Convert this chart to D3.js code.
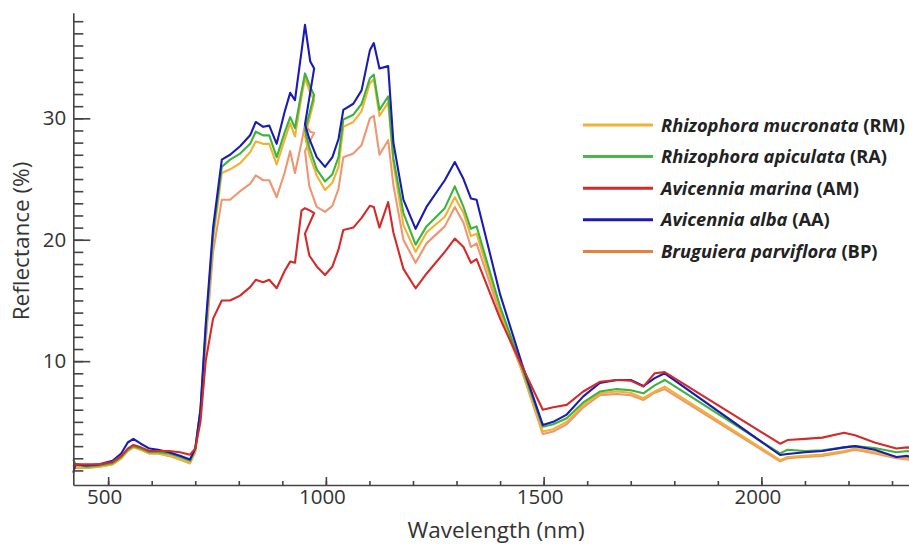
<!DOCTYPE html>
<html>
<head>
<meta charset="utf-8">
<script src="https://cdn.jsdelivr.net/npm/d3@7"></script>
<style>
  html, body { margin: 0; padding: 0; background: #fff; }
  svg { display: block; font-family: "Open Sans", "Noto Sans", sans-serif; }
</style>
</head>
<body>
<svg id="chart" width="909" height="544"></svg>
<script>
// ---- data (wavelength grid shared by all series; detector overlap near 950-975 nm) ----
const wavelengths = [420,425,450,480,510,530,545,558,575,595,615,640,665,688,700,712,724,741,761,780,803,826,839,856,870,887,905,918,929,944,952,964,973,
  952,962,979,998,1015,1029,1040,1063,1082,1101,1110,1123,1143,1155,1178,1206,1231,1273,1296,1316,1333,1346,1400,1450,1498,1522,1553,1591,1629,1668,1700,1729,1755,1778,
  2043,2060,2100,2140,2190,2215,2260,2310,2335,2350];

const seriesNames = ["Rhizophora mucronata", "Rhizophora apiculata", "Avicennia marina", "Avicennia alba", "Bruguiera parviflora"];
const seriesCodes = ["RM", "RA", "AM", "AA", "BP"];

const valuesRM = [1.2,1.3,1.2,1.3,1.5,2.0,2.6,2.95,2.7,2.4,2.4,2.2,1.9,1.6,2.6,5.8,12.0,20.0,25.5,25.8,26.3,27.2,28.1,27.9,27.9,26.2,28.2,29.6,28.5,31.8,33.3,32.1,31.5,
  28.5,27.0,25.3,24.1,24.7,26.0,29.3,29.7,30.6,32.9,33.2,30.2,31.3,26.3,21.2,19.0,20.6,21.9,23.5,22.2,20.3,20.5,14.2,9.3,4.2,4.4,5.0,6.4,7.35,7.5,7.4,6.95,7.5,7.9,
  1.85,2.1,2.2,2.3,2.6,2.8,2.5,2.1,2.0,1.9];
const valuesRA = [1.9,1.5,1.3,1.4,1.6,2.1,2.7,3.0,2.8,2.5,2.5,2.4,2.1,1.8,2.8,6.0,12.5,20.5,26.0,26.6,27.1,27.9,28.9,28.6,28.6,26.8,28.8,30.1,29.2,32.2,33.7,32.6,31.9,
  29.0,27.6,25.8,24.8,25.4,26.8,29.9,30.3,31.2,33.3,33.6,30.7,31.8,26.7,22.2,19.6,21.1,22.6,24.4,22.7,20.9,21.1,14.5,9.5,4.6,4.8,5.3,6.6,7.5,7.7,7.6,7.35,8.0,8.45,
  2.4,2.7,2.6,2.65,2.9,3.0,2.85,2.5,2.6,2.5];
const valuesAM = [1.3,1.5,1.5,1.5,1.7,2.2,2.8,3.1,2.9,2.6,2.6,2.6,2.5,2.3,2.8,5.0,10.0,13.5,15.0,15.0,15.4,16.1,16.7,16.5,16.7,16.0,17.4,18.2,18.1,22.4,22.6,22.4,22.2,
  20.5,18.7,17.8,17.1,17.8,19.2,20.8,21.0,21.8,22.8,22.7,21.0,23.1,20.6,17.6,16.0,17.2,19.0,20.1,19.4,18.1,18.4,13.5,9.6,6.0,6.2,6.4,7.5,8.3,8.45,8.4,7.9,9.0,9.1,
  3.2,3.5,3.6,3.7,4.1,3.9,3.3,2.8,2.9,2.8];
const valuesAA = [0.8,1.5,1.4,1.5,1.8,2.4,3.3,3.6,3.2,2.8,2.7,2.5,2.2,1.9,2.8,6.0,13.0,21.0,26.6,27.0,27.7,28.6,29.7,29.3,29.4,27.9,30.5,32.1,31.5,35.5,37.7,34.7,34.1,
  29.5,28.3,26.8,26.0,26.8,28.3,30.7,31.2,32.3,35.6,36.2,34.1,34.3,28.0,23.3,20.9,22.7,24.9,26.4,25.0,23.4,23.3,15.5,9.8,4.75,5.0,5.6,7.1,8.2,8.45,8.45,7.95,8.6,9.0,
  2.27,2.35,2.5,2.6,2.9,3.0,2.7,2.1,2.2,1.9];
const valuesBP = [1.2,1.2,1.2,1.3,1.5,2.0,2.6,2.9,2.7,2.4,2.4,2.2,1.9,1.6,2.5,5.5,11.5,19.0,23.3,23.3,24.0,24.6,25.3,24.9,24.9,23.5,25.5,27.3,25.5,28.0,29.5,28.9,28.8,
  27.3,24.4,22.7,22.3,22.8,24.2,26.8,27.1,27.8,30.0,30.2,27.0,28.2,24.5,20.0,18.1,19.7,21.1,22.7,21.4,19.4,19.7,13.9,9.2,4.0,4.2,4.8,6.2,7.2,7.3,7.2,6.8,7.4,7.7,
  1.75,2.0,2.1,2.2,2.5,2.7,2.4,2.0,1.9,1.8];

const xTickValues = [500, 1000, 1500, 2000];
const xMinorTickValues = d3.range(500, 2400, 100);
const yTickValues = [10, 20, 30];
const yMinorTickValues = d3.range(1, 39, 1);

// ---- styles ----
const lineColors   = ["#f0b232", "#3cb43c", "#d42a2a", "#1a1ab4", "#ee9672"];
const legendColors = ["#f0b232", "#48b848", "#d42a2a", "#1a1ab4", "#e2823c"];
const drawOrder = [4, 0, 1, 3, 2];
const allValues = [valuesRM, valuesRA, valuesAM, valuesAA, valuesBP];

const svg = d3.select("#chart");
const x = d3.scaleLinear().domain([420, 2350]).range([73.3, 73.3 + 1930 * 0.4355]);
const y = d3.scaleLinear().domain([-0.2, 38.7]).range([485, 12.7]);
const axisColor = "#444";

// lines
const line = d3.line().x(d => x(d[0])).y(d => y(d[1]));
const gLines = svg.append("g");
drawOrder.forEach(i => {
  const pts = wavelengths.map((w, k) => [w, allValues[i][k]]);
  gLines.append("path")
    .attr("d", line(pts))
    .attr("fill", "none")
    .attr("stroke", lineColors[i])
    .attr("stroke-width", 2.1)
    .attr("stroke-linejoin", "round");
});

// x axis
const gx = svg.append("g").attr("transform", `translate(0,${y(-0.2)})`);
gx.call(d3.axisBottom(x).tickValues(xMinorTickValues).tickSizeInner(-4).tickSizeOuter(0).tickFormat(""));
const gx2 = svg.append("g").attr("transform", `translate(0,${y(-0.2)})`);
gx2.call(d3.axisBottom(x).tickValues(xTickValues).tickSizeInner(-8).tickSizeOuter(0).tickPadding(4).tickFormat(d3.format("d")));
gx2.select(".domain").remove();
gx2.selectAll("text").attr("dx", -4);
[gx, gx2].forEach(g => {
  g.selectAll("path, line").attr("stroke", axisColor).attr("stroke-width", 1.6);
  g.selectAll("text").attr("fill", "#333").style("font-size", "20.5px").style("font-family", "'Open Sans', sans-serif");
});

// y axis
const gy = svg.append("g").attr("transform", `translate(${x(420)},0)`);
gy.call(d3.axisLeft(y).tickValues(yMinorTickValues).tickSizeInner(-10).tickSizeOuter(0).tickFormat(""));
const gy2 = svg.append("g").attr("transform", `translate(${x(420)},0)`);
gy2.call(d3.axisLeft(y).tickValues(yTickValues).tickSizeInner(-17).tickSizeOuter(0).tickPadding(7).tickFormat(d3.format("d")));
gy2.select(".domain").remove();
[gy, gy2].forEach(g => {
  g.selectAll("path, line").attr("stroke", axisColor).attr("stroke-width", 1.6);
  g.selectAll("text").attr("fill", "#333").style("font-size", "20.5px").style("font-family", "'Open Sans', sans-serif");
});

// axis titles
svg.append("text")
  .attr("x", 496).attr("y", 538)
  .attr("text-anchor", "middle")
  .attr("fill", "#333")
  .style("font-size", "22.5px")
  .text("Wavelength (nm)");
svg.append("text")
  .attr("transform", "translate(29,241) rotate(-90)")
  .attr("text-anchor", "middle")
  .attr("fill", "#333")
  .style("font-size", "22.5px")
  .text("Reflectance (%)");

// legend
const legend = svg.append("g");
seriesNames.forEach((name, i) => {
  const yy = 125 + i * 31.6;
  legend.append("line")
    .attr("x1", 583).attr("x2", 653)
    .attr("y1", yy).attr("y2", yy)
    .attr("stroke", legendColors[i]).attr("stroke-width", 3);
  const t = legend.append("text")
    .attr("x", 661).attr("y", yy + 6.5)
    .attr("fill", "#222")
    .style("font-size", "18.3px")
    .style("font-weight", "bold");
  t.append("tspan").style("font-style", "italic").text(name);
  t.append("tspan").text(" (" + seriesCodes[i] + ")");
});
</script>
</body>
</html>
